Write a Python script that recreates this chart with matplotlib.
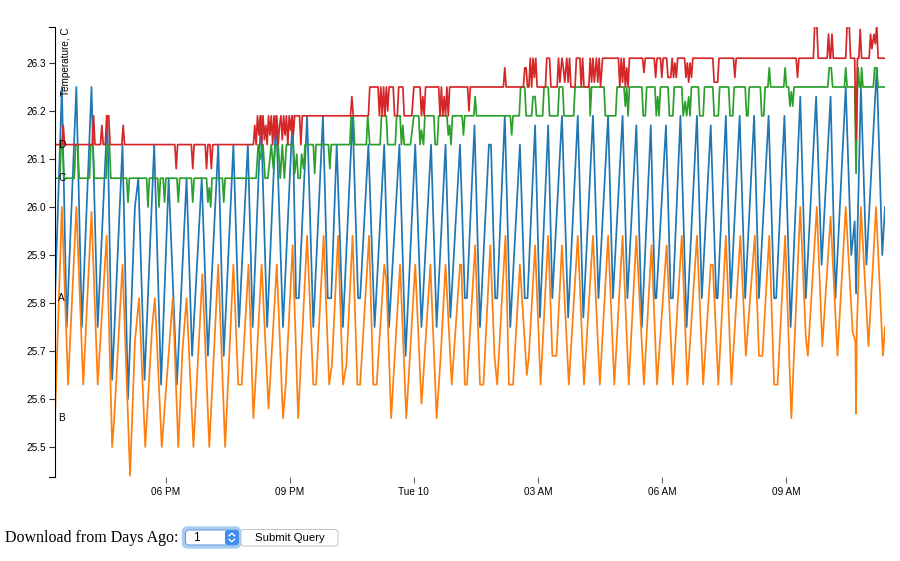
import pandas as pd
import matplotlib
matplotlib.use('Agg')
import matplotlib.pyplot as plt
from matplotlib.patches import FancyBboxPatch

plt.rcParams['font.family'] = ['Liberation Sans', 'DejaVu Sans']

# start of the record, all times below are minutes after it
start = pd.Timestamp('2017-10-09 15:19')
end_minute = 1205

# sensor A (blue)
sensor_a = [
    (0, 25.81), (10, 26.25), (17, 25.75), (31, 26.25), (39, 25.75), (53, 26.25), (62, 25.75),
    (76, 26.19), (83, 25.64), (98, 26.13), (106, 25.60), (116, 26.00), (121, 26.06), (130, 25.64),
    (144, 26.13), (154, 25.63), (165, 26.06), (177, 25.63), (191, 26.06), (199, 25.69), (213, 26.06),
    (222, 25.69), (237, 26.13), (245, 25.69), (259, 26.13), (267, 25.75), (280, 26.13), (287, 25.75),
    (299, 26.19), (308, 25.75), (321, 26.19), (331, 25.75), (345, 26.19), (350, 25.81), (354, 25.81),
    (366, 26.19), (375, 25.75), (389, 26.19), (396, 25.81), (401, 25.81), (409, 26.13), (418, 25.75),
    (432, 26.19), (440, 25.81), (443, 25.81), (455, 26.13), (464, 25.75), (478, 26.13), (485, 25.75),
    (500, 26.13), (509, 25.69), (523, 26.13), (532, 25.75), (546, 26.13), (554, 25.75), (567, 26.13),
    (574, 25.77), (588, 26.13), (595, 25.81), (598, 25.81), (609, 26.17), (617, 25.75), (630, 26.13),
    (633, 26.13), (639, 25.81), (642, 25.81), (653, 26.19), (661, 25.75), (675, 26.13), (682, 25.81),
    (686, 25.81), (697, 26.17), (704, 25.77), (716, 26.17), (722, 25.81), (736, 26.19), (745, 25.77),
    (759, 26.19), (767, 25.77), (781, 26.19), (789, 25.81), (803, 26.19), (810, 25.81), (824, 26.19),
    (831, 25.81), (844, 26.17), (852, 25.75), (865, 26.17), (871, 25.81), (873, 25.81), (887, 26.17),
    (894, 25.81), (897, 25.81), (908, 26.19), (917, 25.75), (932, 26.19), (939, 25.81), (952, 26.17),
    (960, 25.81), (962, 25.81), (974, 26.19), (981, 25.81), (994, 26.19), (1002, 25.81), (1015, 26.19),
    (1022, 25.81), (1036, 26.19), (1044, 25.81), (1047, 25.81), (1059, 26.19), (1068, 25.75),
    (1082, 26.23), (1090, 25.81), (1105, 26.23), (1113, 25.88), (1126, 26.23), (1133, 25.81),
    (1148, 26.25), (1156, 25.90), (1161, 25.97), (1163, 25.82), (1170, 26.25), (1178, 25.88),
    (1193, 26.29), (1201, 25.90), (1205, 26.00),
]

# sensor B (orange)
sensor_b = [
    (0, 25.56), (10, 26.00), (19, 25.63), (31, 26.00), (41, 25.63), (53, 25.99), (62, 25.63),
    (75, 25.94), (83, 25.50), (86, 25.56), (98, 25.88), (109, 25.44), (116, 25.72), (122, 25.81),
    (131, 25.50), (141, 25.75), (145, 25.81), (155, 25.50), (171, 25.81), (179, 25.50), (185, 25.70),
    (191, 25.81), (201, 25.50), (214, 25.86), (224, 25.50), (237, 25.88), (247, 25.50), (259, 25.88),
    (266, 25.63), (271, 25.63), (281, 25.88), (288, 25.56), (292, 25.66), (300, 25.88), (310, 25.58),
    (322, 25.88), (331, 25.56), (335, 25.63), (345, 25.92), (353, 25.56), (366, 25.94), (375, 25.63),
    (379, 25.63), (390, 25.94), (398, 25.63), (402, 25.67), (411, 25.94), (418, 25.63), (423, 25.67),
    (432, 25.94), (439, 25.63), (443, 25.63), (456, 25.94), (462, 25.63), (467, 25.63), (478, 25.88),
    (481, 25.85), (488, 25.56), (501, 25.88), (510, 25.56), (523, 25.88), (532, 25.59), (534, 25.63),
    (545, 25.88), (554, 25.56), (560, 25.69), (567, 25.88), (576, 25.63), (588, 25.88), (590, 25.88),
    (595, 25.63), (598, 25.63), (610, 25.92), (617, 25.63), (622, 25.63), (632, 25.92), (638, 25.69),
    (642, 25.63), (654, 25.94), (659, 25.63), (665, 25.63), (675, 25.88), (685, 25.65), (688, 25.69),
    (697, 25.92), (705, 25.63), (716, 25.94), (722, 25.69), (728, 25.69), (736, 25.92), (746, 25.63),
    (759, 25.94), (768, 25.63), (781, 25.94), (791, 25.63), (803, 25.94), (812, 25.63), (824, 25.94),
    (833, 25.63), (844, 25.94), (855, 25.63), (866, 25.92), (874, 25.63), (888, 25.92), (897, 25.63),
    (910, 25.94), (918, 25.63), (932, 25.94), (941, 25.63), (952, 25.88), (955, 25.88), (963, 25.63),
    (974, 25.94), (982, 25.63), (995, 25.94), (1003, 25.69), (1016, 25.94), (1022, 25.69),
    (1027, 25.69), (1037, 25.94), (1044, 25.63), (1049, 25.63), (1060, 25.94), (1069, 25.56),
    (1082, 26.00), (1090, 25.73), (1093, 25.69), (1106, 26.00), (1114, 25.71), (1126, 25.98),
    (1136, 25.69), (1148, 26.00), (1158, 25.74), (1162, 25.72), (1163, 25.57), (1164, 25.74),
    (1170, 26.00), (1181, 25.71), (1192, 26.00), (1202, 25.69), (1205, 25.75),
]

# sensor C (green)
sensor_c = [
    (0, 26.06), (7, 26.06), (9, 26.13), (11, 26.13), (13, 26.06), (28, 26.06), (30, 26.13),
    (33, 26.13), (35, 26.06), (50, 26.06), (52, 26.13), (55, 26.13), (57, 26.06), (74, 26.06),
    (76, 26.13), (79, 26.13), (81, 26.06), (104, 26.06), (106, 26.01), (108, 26.06), (133, 26.06),
    (135, 26.00), (137, 26.06), (149, 26.06), (151, 26.00), (153, 26.06), (157, 26.06), (159, 26.01),
    (161, 26.06), (177, 26.06), (179, 26.01), (181, 26.06), (198, 26.06), (200, 26.01), (202, 26.06),
    (220, 26.06), (222, 26.01), (224, 26.04), (226, 26.00), (228, 26.06), (243, 26.06), (245, 26.01),
    (247, 26.06), (292, 26.06), (295, 26.13), (298, 26.10), (302, 26.13), (305, 26.06), (309, 26.06),
    (312, 26.10), (314, 26.13), (317, 26.08), (320, 26.13), (324, 26.13), (327, 26.06), (330, 26.13),
    (333, 26.06), (336, 26.13), (346, 26.13), (348, 26.07), (351, 26.11), (353, 26.06), (356, 26.06),
    (358, 26.11), (361, 26.08), (363, 26.13), (375, 26.13), (377, 26.07), (379, 26.13), (397, 26.13),
    (399, 26.08), (401, 26.13), (428, 26.13), (430, 26.19), (433, 26.19), (435, 26.13), (452, 26.13),
    (454, 26.19), (457, 26.13), (472, 26.13), (474, 26.19), (481, 26.19), (483, 26.13), (494, 26.13),
    (496, 26.19), (501, 26.19), (503, 26.13), (505, 26.17), (507, 26.13), (516, 26.13), (521, 26.19),
    (528, 26.19), (530, 26.13), (532, 26.16), (535, 26.13), (537, 26.19), (550, 26.19), (552, 26.13),
    (555, 26.13), (557, 26.19), (569, 26.19), (571, 26.15), (573, 26.17), (575, 26.13), (577, 26.19),
    (591, 26.19), (593, 26.15), (595, 26.19), (608, 26.19), (610, 26.23), (612, 26.19), (661, 26.19),
    (663, 26.15), (665, 26.19), (674, 26.19), (676, 26.25), (682, 26.25), (684, 26.19), (692, 26.19),
    (694, 26.23), (697, 26.23), (699, 26.19), (708, 26.19), (710, 26.25), (716, 26.25), (718, 26.19),
    (730, 26.19), (732, 26.25), (737, 26.25), (739, 26.19), (753, 26.19), (755, 26.25), (776, 26.25),
    (777, 26.19), (779, 26.25), (797, 26.25), (799, 26.19), (814, 26.19), (816, 26.25), (826, 26.25),
    (828, 26.21), (830, 26.25), (832, 26.19), (834, 26.25), (852, 26.25), (854, 26.19), (857, 26.19),
    (859, 26.25), (871, 26.25), (873, 26.19), (875, 26.23), (877, 26.19), (879, 26.25), (890, 26.25),
    (892, 26.19), (897, 26.19), (899, 26.25), (910, 26.25), (912, 26.19), (915, 26.22), (917, 26.19),
    (920, 26.23), (922, 26.19), (924, 26.25), (934, 26.25), (936, 26.19), (941, 26.19), (943, 26.25),
    (955, 26.25), (957, 26.19), (963, 26.19), (965, 26.25), (978, 26.25), (980, 26.19), (984, 26.19),
    (986, 26.25), (1002, 26.25), (1004, 26.19), (1006, 26.19), (1008, 26.25), (1024, 26.25),
    (1026, 26.19), (1029, 26.19), (1031, 26.25), (1035, 26.25), (1037, 26.29), (1039, 26.25),
    (1058, 26.25), (1060, 26.29), (1062, 26.25), (1065, 26.25), (1067, 26.21), (1069, 26.24),
    (1071, 26.21), (1073, 26.25), (1122, 26.25), (1124, 26.29), (1127, 26.29), (1129, 26.25),
    (1146, 26.25), (1148, 26.29), (1150, 26.25), (1161, 26.25), (1163, 26.07), (1165, 26.25),
    (1166, 26.29), (1168, 26.25), (1170, 26.25), (1171, 26.29), (1173, 26.25), (1188, 26.25),
    (1190, 26.29), (1193, 26.29), (1195, 26.25), (1205, 26.25),
]

# sensor D (red)
sensor_d = [
    (0, 26.13), (10, 26.13), (12, 26.17), (14, 26.13), (54, 26.13), (56, 26.19), (58, 26.13),
    (66, 26.13), (68, 26.17), (70, 26.13), (73, 26.13), (75, 26.19), (78, 26.19), (80, 26.13),
    (97, 26.13), (99, 26.17), (101, 26.13), (174, 26.13), (176, 26.08), (178, 26.13), (198, 26.13),
    (200, 26.08), (202, 26.13), (218, 26.13), (220, 26.08), (222, 26.13), (225, 26.13), (227, 26.08),
    (229, 26.13), (288, 26.13), (290, 26.17), (292, 26.13), (294, 26.19), (296, 26.15), (298, 26.19),
    (300, 26.13), (302, 26.19), (304, 26.14), (306, 26.17), (308, 26.13), (310, 26.19), (312, 26.15),
    (314, 26.19), (316, 26.13), (318, 26.19), (320, 26.14), (322, 26.19), (324, 26.13), (326, 26.17),
    (328, 26.19), (330, 26.14), (332, 26.19), (334, 26.15), (336, 26.19), (338, 26.13), (340, 26.19),
    (342, 26.16), (344, 26.19), (346, 26.15), (348, 26.19), (355, 26.19), (357, 26.13), (359, 26.19),
    (429, 26.19), (431, 26.23), (433, 26.19), (455, 26.19), (457, 26.25), (469, 26.25), (471, 26.19),
    (473, 26.25), (475, 26.19), (477, 26.25), (479, 26.19), (481, 26.25), (483, 26.20), (485, 26.25),
    (491, 26.25), (493, 26.19), (497, 26.19), (499, 26.25), (505, 26.25), (507, 26.19), (518, 26.19),
    (521, 26.25), (530, 26.25), (532, 26.19), (534, 26.23), (536, 26.19), (538, 26.25), (557, 26.25),
    (559, 26.19), (561, 26.25), (563, 26.19), (565, 26.23), (567, 26.19), (569, 26.25), (571, 26.19),
    (573, 26.25), (599, 26.25), (601, 26.20), (603, 26.25), (651, 26.25), (653, 26.29), (655, 26.25),
    (680, 26.25), (682, 26.29), (684, 26.29), (686, 26.25), (688, 26.25), (690, 26.31), (692, 26.25),
    (694, 26.31), (696, 26.27), (698, 26.31), (700, 26.25), (712, 26.25), (714, 26.31), (718, 26.31),
    (720, 26.25), (729, 26.25), (731, 26.31), (733, 26.26), (736, 26.31), (738, 26.29), (740, 26.26),
    (743, 26.31), (745, 26.26), (747, 26.31), (749, 26.25), (755, 26.25), (757, 26.31), (762, 26.31),
    (764, 26.25), (766, 26.31), (768, 26.25), (775, 26.25), (777, 26.31), (779, 26.26), (781, 26.31),
    (783, 26.26), (786, 26.31), (788, 26.26), (790, 26.31), (792, 26.25), (795, 26.31), (818, 26.31),
    (820, 26.25), (822, 26.31), (824, 26.26), (826, 26.31), (828, 26.25), (830, 26.29), (832, 26.25),
    (834, 26.31), (853, 26.31), (855, 26.28), (857, 26.31), (870, 26.31), (872, 26.27), (874, 26.31),
    (879, 26.31), (881, 26.27), (883, 26.31), (888, 26.31), (890, 26.27), (894, 26.27), (896, 26.31),
    (898, 26.27), (900, 26.30), (902, 26.27), (904, 26.31), (914, 26.31), (916, 26.27), (918, 26.30),
    (920, 26.26), (922, 26.30), (924, 26.27), (926, 26.31), (955, 26.31), (957, 26.26), (962, 26.26),
    (964, 26.31), (985, 26.31), (987, 26.27), (989, 26.31), (1076, 26.31), (1078, 26.27),
    (1080, 26.31), (1101, 26.31), (1103, 26.38), (1106, 26.38), (1108, 26.31), (1121, 26.31),
    (1123, 26.36), (1125, 26.31), (1126, 26.31), (1128, 26.36), (1130, 26.31), (1148, 26.31),
    (1150, 26.38), (1153, 26.38), (1155, 26.31), (1161, 26.31), (1163, 26.14), (1165, 26.31),
    (1167, 26.31), (1169, 26.37), (1171, 26.31), (1182, 26.31), (1184, 26.36), (1186, 26.33),
    (1189, 26.36), (1191, 26.34), (1193, 26.38), (1195, 26.31), (1205, 26.31),
]

names = ['A', 'B', 'C', 'D']
colors = ['#1f77b4', '#ff7f0e', '#2ca02c', '#d62728']
y_domain = (25.4375, 26.375)
y_ticks = [25.5, 25.6, 25.7, 25.8, 25.9, 26.0, 26.1, 26.2, 26.3]
x_tick_times = ['2017-10-09 18:00', '2017-10-09 21:00', '2017-10-10 00:00',
                '2017-10-10 03:00', '2017-10-10 06:00', '2017-10-10 09:00']
x_tick_labels = ['06 PM', '09 PM', 'Tue 10', '03 AM', '06 AM', '09 AM']


def to_series(pairs):
    t = start + pd.to_timedelta([p[0] for p in pairs], unit='min')
    v = [p[1] for p in pairs]
    return t.to_numpy(), v


fig = plt.figure(figsize=(9, 5.61), dpi=100, facecolor='white')
ax = fig.add_axes([55 / 900, 1 - 477 / 561, 830 / 900, 450 / 561])

for name, pairs, col in zip(names, [sensor_a, sensor_b, sensor_c, sensor_d], colors):
    t, v = to_series(pairs)
    ax.plot(t, v, color=col, lw=1.25, solid_joinstyle='round')
    ax.annotate(name, xy=(t[0], v[0]), xytext=(2.2, 0), textcoords='offset points',
                va='center', ha='left', fontsize=7.2, color='black')

ax.set_xlim(start, start + pd.Timedelta(minutes=end_minute))
ax.set_ylim(*y_domain)
for s in ax.spines.values():
    s.set_visible(False)
ax.set_facecolor('none')

ax.set_yticks(y_ticks)
ax.set_yticklabels(['%.1f' % y for y in y_ticks])
ax.set_xticks(pd.to_datetime(x_tick_times).to_numpy())
ax.set_xticklabels(x_tick_labels)
ax.tick_params(axis='y', direction='out', length=4.3, width=0.8, color='#333333',
               pad=2.2, labelsize=7.2)
ax.tick_params(axis='x', direction='out', length=4.3, width=0.8, color='#666666',
               pad=2.6, labelsize=7.2)

ax.annotate('Temperature, C', xy=(0, 1), xycoords='axes fraction', xytext=(4.6, 0),
            textcoords='offset points', rotation=90, rotation_mode='anchor',
            ha='right', va='top', fontsize=7.2)

# overlay in pixel units for the axis line and the form below the chart
ov = fig.add_axes([0, 0, 1, 1], zorder=5)
ov.set_xlim(0, 900)
ov.set_ylim(561, 0)
ov.axis('off')
ov.plot([49, 55, 55, 49], [27, 27, 477, 477], color='black', lw=0.8)

ov.text(5, 537.5, 'Download from Days Ago:', family='Liberation Serif', fontsize=11.5,
        ha='left', va='center')
ov.add_patch(FancyBboxPatch((184, 528.5), 55, 18, boxstyle='round,pad=0.5,rounding_size=4',
                            fc='white', ec='#a7cbf3', lw=2.4))
ov.add_patch(FancyBboxPatch((185.5, 530), 53, 15, boxstyle='round,pad=0,rounding_size=3',
                            fc='white', ec='#5d9be0', lw=0.8))
ov.add_patch(FancyBboxPatch((225, 530), 13.5, 15, boxstyle='round,pad=0,rounding_size=3',
                            fc='#3d8cf0', ec='none'))
ov.plot([229, 231.8, 234.6], [535.8, 533.2, 535.8], color='white', lw=1.0)
ov.plot([229, 231.8, 234.6], [539.2, 541.8, 539.2], color='white', lw=1.0)
ov.text(193, 538, '1', fontsize=8.6, ha='left', va='center')
ov.add_patch(FancyBboxPatch((241, 529.5), 97, 16.5, boxstyle='round,pad=0,rounding_size=3',
                            fc='white', ec='#c4c4c4', lw=0.7))
ov.text(289.5, 538, 'Submit Query', fontsize=8.2, ha='center', va='center')

fig.savefig('out.png', dpi=100, facecolor='white')
